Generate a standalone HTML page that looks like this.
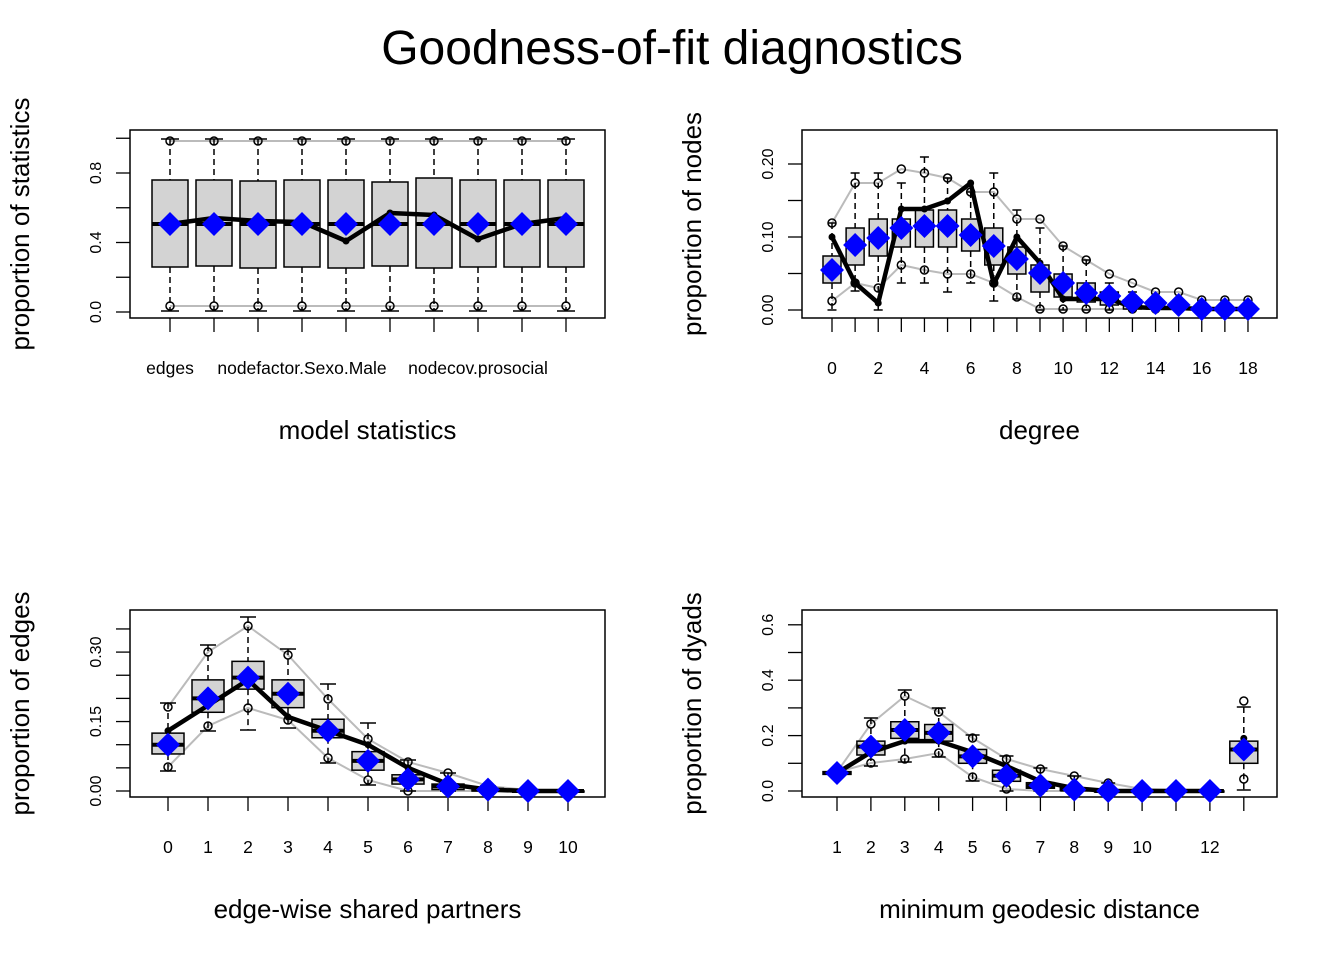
<!DOCTYPE html><html><head><meta charset="utf-8"><style>body{margin:0;background:#fff}svg{display:block}text{font-family:"Liberation Sans",sans-serif}</style></head><body>
<svg id="s" width="1344" height="960" xmlns="http://www.w3.org/2000/svg">
<text x="672" y="64" font-size="48" text-anchor="middle">Goodness-of-fit diagnostics</text>
</svg>
<script>
const S=document.getElementById('s');let h='';
function P(o){
 const {L,R,T,B,xs,yv,yticks,ylab,xlab,xticks,bw,blue,black,up,lo,q1,q3,wt,wb,med,nl}=o;
 const N=nl||xs.length;
 h+=`<rect x="${L}" y="${T}" width="${R-L}" height="${B-T}" fill="none" stroke="#000" stroke-width="1.5"/>`;
 yticks.forEach(t=>{const y=yv(t[0]);h+=`<line x1="${L-14}" x2="${L}" y1="${y}" y2="${y}" stroke="#000" stroke-width="1.3"/>`;if(t[1])h+=`<text transform="translate(${L-34},${y}) rotate(-90)" font-size="16" text-anchor="middle" dy="5">${t[1]}</text>`;});
 xs.forEach(x=>h+=`<line x1="${x}" x2="${x}" y1="${B}" y2="${B+14}" stroke="#000" stroke-width="1.3"/>`);
 xticks.forEach(t=>h+=`<text x="${t[0]}" y="${B+56}" font-size="17.5" text-anchor="middle">${t[1]}</text>`);
 h+=`<text x="${(L+R)/2}" y="${B+121}" font-size="26" text-anchor="middle">${xlab}</text>`;
 h+=`<text transform="translate(${L-101},${(T+B)/2}) rotate(-90)" font-size="26" text-anchor="middle">${ylab}</text>`;
 const pl=a=>a.slice(0,N).map((v,i)=>xs[i]+','+v).join(' ');
 h+=`<polyline points="${pl(up)}" fill="none" stroke="#bbb" stroke-width="2"/><polyline points="${pl(lo)}" fill="none" stroke="#bbb" stroke-width="2"/>`;
 xs.forEach((x,i)=>{
  h+=`<line x1="${x}" x2="${x}" y1="${wt[i]}" y2="${q3[i]}" stroke="#000" stroke-width="1.5" stroke-dasharray="6,4"/><line x1="${x}" x2="${x}" y1="${q1[i]}" y2="${wb[i]}" stroke="#000" stroke-width="1.5" stroke-dasharray="6,4"/>`;
  h+=`<line x1="${x-bw/4}" x2="${x+bw/4}" y1="${wt[i]}" y2="${wt[i]}" stroke="#000" stroke-width="1.5"/><line x1="${x-bw/4}" x2="${x+bw/4}" y1="${wb[i]}" y2="${wb[i]}" stroke="#000" stroke-width="1.5"/>`;
  h+=`<rect x="${x-bw/2}" y="${q3[i]}" width="${bw}" height="${Math.max(q1[i]-q3[i],1)}" fill="#d3d3d3" stroke="#000" stroke-width="1.5"/>`;
  h+=`<line x1="${x-bw/2}" x2="${x+bw/2}" y1="${med[i]}" y2="${med[i]}" stroke="#000" stroke-width="4"/>`;
  h+=`<circle cx="${x}" cy="${up[i]}" r="4" fill="none" stroke="#000" stroke-width="1.5"/><circle cx="${x}" cy="${lo[i]}" r="4" fill="none" stroke="#000" stroke-width="1.5"/>`;
 });
 h+=`<polyline points="${pl(black)}" fill="none" stroke="#000" stroke-width="4.5" stroke-linejoin="round"/>`;
 black.forEach((v,i)=>h+=`<circle cx="${xs[i]}" cy="${v}" r="3.5"/>`);
 blue.forEach((v,i)=>{const x=xs[i];h+=`<polygon points="${x},${v-12} ${x+12},${v} ${x},${v+12} ${x-12},${v}" fill="#0000ff"/>`;});
}
// Panel 1
{const xs=[...Array(10)].map((_,i)=>170+44*i);const yv=v=>312-v*173.75;const n=10;
P({L:130,R:605,T:130,B:318,xs,yv,bw:36,yticks:[[0,'0.0'],[0.2],[0.4,'0.4'],[0.6],[0.8,'0.8'],[1.0]],ylab:'proportion of statistics',xlab:'model statistics',
xticks:[[170,'edges'],[302,'nodefactor.Sexo.Male'],[478,'nodecov.prosocial']],
blue:Array(n).fill(224),med:Array(n).fill(224),black:[224,218,221,222,241,213,215,239,224,218],up:Array(n).fill(141),lo:Array(n).fill(306),
q3:[180,180,181,180,180,182,178,180,180,180],q1:[267,266,268,267,268,266,268,267,267,267],wt:Array(n).fill(139),wb:Array(n).fill(311)});}
// Panel 2
{const xs=[...Array(19)].map((_,i)=>832+23.11*i);const yv=v=>310-v*730;
const blue=[270,245,238,228,226,226,235,246,259,273,283,293,296,302,303,305,309,309,309];
P({L:802,R:1277,T:130,B:318,xs,yv,bw:18,yticks:[[0,'0.00'],[0.05],[0.10,'0.10'],[0.15],[0.20,'0.20']],ylab:'proportion of nodes',xlab:'degree',
xticks:[0,2,4,6,8,10,12,14,16,18].map(d=>[832+23.11*d,d]),blue,med:blue,
black:[237,283,303,209,209,201,183,284,237,263,299,299,299,307,308,308,309,309,309],
up:[223,183,183,169,173,178,192,192,219,219,246,260,274,283,292,292,300,300,300],
lo:[301,283,288,265,270,274,274,283,297,309,309,309,309,309,309,309,309,309,309],
q3:[256,228,219,219,210,210,219,228,247,265,274,283,292,300,303,305,309,309,309],
q1:[283,265,256,247,247,247,251,265,274,292,297,302,305,309,309,309,310,310,310],
wt:[223,173,173,183,157,178,192,173,210,228,246,260,283,292,300,305,309,309,309],
wb:[310,291,310,283,283,292,283,301,299,310,310,310,310,310,310,310,310,310,310]});}
// Panel 3
{const xs=[...Array(11)].map((_,i)=>168+40*i);const yv=v=>791-v*463;const m=a=>a.map(yv);
const blue=m([0.10,0.20,0.245,0.21,0.13,0.065,0.025,0.01,0.003,0,0]);
P({L:130,R:605,T:610,B:797,xs,yv,bw:32,yticks:[[0,'0.00'],[0.05],[0.10],[0.15,'0.15'],[0.20],[0.25],[0.30,'0.30'],[0.35]],ylab:'proportion of edges',xlab:'edge-wise shared partners',
xticks:xs.map((x,i)=>[x,i]),blue,med:blue,
black:m([0.13,0.185,0.24,0.16,0.13,0.10,0.05,0.015,0.003,0,0]),
up:[707,652,626,655,699,739,762,773,786,790,790],lo:[767,726,708,720,758,780,791,791,791,791,791],
q3:m([0.125,0.24,0.28,0.24,0.155,0.085,0.035,0.015,0.005,0.001,0]),q1:m([0.08,0.17,0.22,0.18,0.115,0.045,0.015,0.003,0,0,0]),
wt:[703,645,617,649,684,723,760,773,786,790,790],wb:[771,731,730,728,763,785,791,791,791,791,791]});}
// Panel 4
{const xs=[...Array(13)].map((_,i)=>837+33.9*i);const yv=v=>791-v*277;const m=a=>a.map(yv);
const blue=m([0.065,0.16,0.22,0.21,0.125,0.055,0.02,0.005,0,0,0,0,0.15]);
P({L:802,R:1277,T:610,B:797,xs,yv,bw:28,nl:12,yticks:[[0,'0.0'],[0.1],[0.2,'0.2'],[0.3],[0.4,'0.4'],[0.5],[0.6,'0.6']],ylab:'proportion of dyads',xlab:'minimum geodesic distance',
xticks:[1,2,3,4,5,6,7,8,9,10,12].map(d=>[837+33.9*(d-1),d]),blue,med:blue,
black:m([0.065,0.14,0.18,0.18,0.14,0.09,0.035,0.01,0,0,0,0,0.19]),
up:[772,724,696,712,738,759,769,776,783,789,790,790,701],lo:[772,763,759,753,777,789,791,791,791,791,791,791,779],
q3:m([0.07,0.18,0.25,0.24,0.15,0.075,0.03,0.01,0.002,0,0,0,0.18]),q1:m([0.06,0.13,0.19,0.18,0.1,0.035,0.01,0.002,0,0,0,0,0.1]),
wt:[771,718,690,708,735,756,768,776,783,789,790,790,707],wb:[772,766,762,757,781,791,791,791,791,791,791,791,790]});
}
S.insertAdjacentHTML('beforeend',h);
</script></body></html>
